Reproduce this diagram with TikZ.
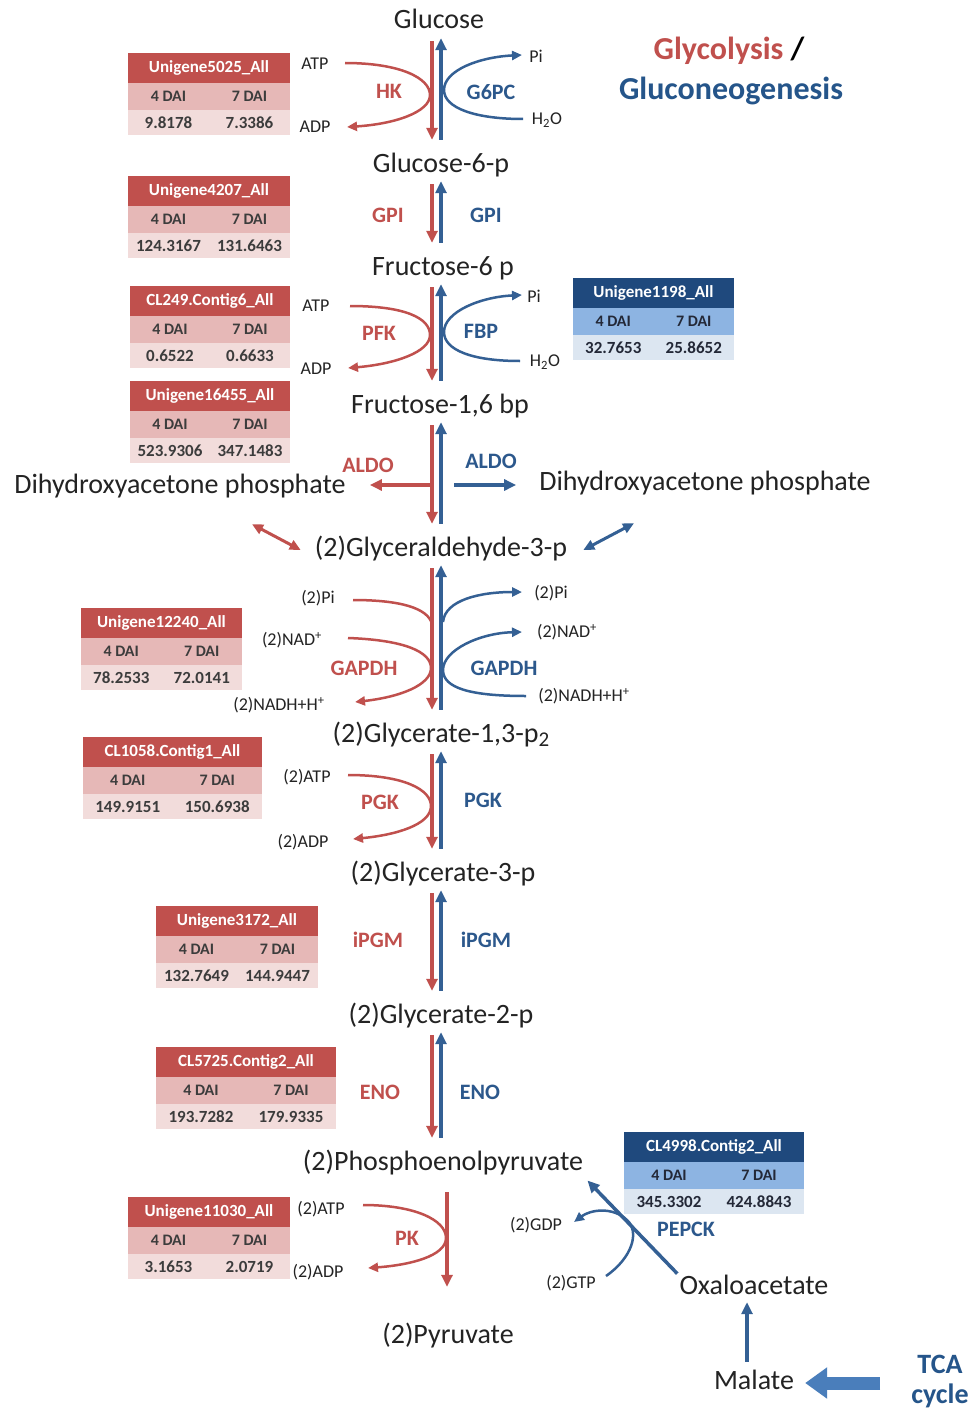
\documentclass[tikz,border=0pt]{standalone}
\usepackage{fontspec}
\setmainfont{Carlito}
\usetikzlibrary{arrows.meta,calc}
\definecolor{myred}{RGB}{192,80,77}
\definecolor{arrblue}{RGB}{52,96,148}
\definecolor{enzblue}{RGB}{44,88,140}
\definecolor{titleblue}{RGB}{37,85,138}
\definecolor{fatblue}{RGB}{74,126,187}
\definecolor{txt}{RGB}{35,35,35}
\definecolor{redhdr}{RGB}{192,80,77}
\definecolor{redmid}{RGB}{230,184,183}
\definecolor{redlow}{RGB}{242,220,219}
\definecolor{redtxt}{RGB}{60,60,60}
\definecolor{bluehdr}{RGB}{31,73,125}
\definecolor{bluemid}{RGB}{141,180,226}
\definecolor{bluelow}{RGB}{220,230,241}
\definecolor{bluetxt}{RGB}{35,40,55}
\newcommand{\gtab}[8]{%
  \fill[#8hdr] (#2,#3) rectangle ++(#4,30);
  \fill[#8mid] (#2,#3+30) rectangle ++(#4,27);
  \fill[#8low] (#2,#3+57) rectangle ++(#4,25);
  \node[tabh] (#1h) at (#2+#4/2,#3+15) {#5};
  \node[tabt,text=#8txt] (#1a) at (#2+#4/4,#3+43.5) {4 DAI};
  \node[tabt,text=#8txt] (#1b) at (#2+3*#4/4,#3+43.5) {7 DAI};
  \node[tabv,text=#8txt] (#1c) at (#2+#4/4,#3+69.5) {#6};
  \node[tabv,text=#8txt] (#1d) at (#2+3*#4/4,#3+69.5) {#7};
}
\begin{document}
\begin{tikzpicture}[x=1pt,y=-1pt,
  met/.style={font=\fontsize{28}{32}\selectfont, text=txt, inner sep=0pt, text height=18pt, text depth=6pt, anchor=base},
  lab/.style={font=\fontsize{18}{20}\selectfont, text=txt, inner sep=0pt},
  renz/.style={font=\fontsize{22}{24}\selectfont\bfseries, text=myred, inner sep=0pt},
  benz/.style={font=\fontsize{22}{24}\selectfont\bfseries, text=enzblue, inner sep=0pt},
  rarr/.style={draw=myred, line width=3.5pt, -{Triangle[length=12pt,width=11pt]}, shorten <=6pt, shorten >=14pt},
  barr/.style={draw=arrblue, line width=3.5pt, -{Triangle[length=12pt,width=11pt]}, shorten <=14pt, shorten >=3pt},
  rcur/.style={draw=myred, line width=2.5pt, -{Triangle[length=10pt,width=9pt]}},
  rcurn/.style={draw=myred, line width=2.5pt},
  bcur/.style={draw=arrblue, line width=2.5pt, -{Triangle[length=10pt,width=9pt]}},
  rdbl/.style={draw=myred, line width=3pt, arrows={Triangle[length=11pt,width=10pt]-Triangle[length=11pt,width=10pt]}},
  bdbl/.style={draw=arrblue, line width=3pt, arrows={Triangle[length=11pt,width=10pt]-Triangle[length=11pt,width=10pt]}},
  fatarr/.style={draw=fatblue, line width=13pt, -{Triangle[length=22pt,width=30pt]}},
  tabh/.style={font=\fontsize{17}{19}\selectfont\bfseries, text=white, inner sep=0pt},
  tabt/.style={font=\fontsize{16}{18}\selectfont\bfseries, inner sep=0pt},
  tabv/.style={font=\fontsize{17}{19}\selectfont\bfseries, inner sep=0pt},
  ttl/.style={font=\fontsize{32}{36}\selectfont\bfseries, inner sep=0pt, anchor=base}
]
\useasboundingbox[fill=white] (0,0) rectangle (974,1410);

% title
\node[ttl] (title1) at (729,60) {\textcolor{myred}{Glycolysis} /};
\node[ttl, text=titleblue] (title2) at (731,100) {Gluconeogenesis};

% metabolites
\node[met] (glc) at (439,29) {Glucose};
\node[met] (g6p) at (441,172) {Glucose-6-p};
\node[met] (f6p) at (443,275) {Fructose-6 p};
\node[met] (f16) at (440,413) {Fructose-1,6 bp};
\node[met] (dhapL) at (180,493) {Dihydroxyacetone phosphate};
\node[met] (dhapR) at (705,490) {Dihydroxyacetone phosphate};
\node[met] (g3p) at (441,556) {(2)Glyceraldehyde-3-p};
\node[met] (bpg) at (441,742) {(2)Glycerate-1,3-p\raisebox{-0.3ex}{\fontsize{21}{24}\selectfont 2}};
\node[met] (pg3) at (443,881) {(2)Glycerate-3-p};
\node[met] (pg2) at (441,1023) {(2)Glycerate-2-p};
\node[met] (pep) at (443,1170) {(2)Phosphoenolpyruvate};
\node[met] (pyr) at (448,1343) {(2)Pyruvate};
\node[met] (oaa) at (754,1294) {Oxaloacetate};
\node[met] (mal) at (754,1389) {Malate};
\node[ttl, font=\fontsize{28}{32}\selectfont\bfseries, text=titleblue] (tca1) at (940,1373) {TCA};
\node[ttl, font=\fontsize{28}{32}\selectfont\bfseries, text=titleblue] (tca2) at (940,1403) {cycle};

% enzymes
\node[renz] (hk) at (389,91) {HK};
\node[benz] (g6pc) at (491,92) {G6PC};
\node[renz] (gpir) at (388,215) {GPI};
\node[benz] (gpib) at (486,215) {GPI};
\node[renz] (pfk) at (379,333) {PFK};
\node[benz] (fbp) at (481,331) {FBP};
\node[renz] (aldor) at (368,465) {ALDO};
\node[benz] (aldob) at (491,461) {ALDO};
\node[renz] (gapdhr) at (364,668) {GAPDH};
\node[benz] (gapdhb) at (504,668) {GAPDH};
\node[renz] (pgkr) at (380,802) {PGK};
\node[benz] (pgkb) at (483,800) {PGK};
\node[renz] (ipgmr) at (378,940) {iPGM};
\node[benz] (ipgmb) at (486,940) {iPGM};
\node[renz] (enor) at (380,1092) {ENO};
\node[benz] (enob) at (480,1092) {ENO};
\node[renz] (pk) at (407,1238) {PK};
\node[benz] (pepck) at (686,1229) {PEPCK};

% small labels
\node[lab] (atp1) at (315,64) {ATP};
\node[lab] (adp1) at (315,127) {ADP};
\node[lab] (pi1) at (536,56) {Pi};
\node[lab] (h2o1) at (547,120) {H\textsubscript{2}O};
\node[lab] (atp2) at (316,306) {ATP};
\node[lab] (adp2) at (316,369) {ADP};
\node[lab] (pi2) at (534,296) {Pi};
\node[lab] (h2o2) at (545,362) {H\textsubscript{2}O};
\node[lab] (pil) at (318,598) {(2)Pi};
\node[lab] (nadl) at (292,640) {(2)NAD\textsuperscript{+}};
\node[lab] (nadhl) at (279,705) {(2)NADH+H\textsuperscript{+}};
\node[lab] (pir) at (551,593) {(2)Pi};
\node[lab] (nadr) at (567,632) {(2)NAD\textsuperscript{+}};
\node[lab] (nadhr) at (584,696) {(2)NADH+H\textsuperscript{+}};
\node[lab] (atp3) at (307,777) {(2)ATP};
\node[lab] (adp3) at (303,842) {(2)ADP};
\node[lab] (atp4) at (321,1209) {(2)ATP};
\node[lab] (adp4) at (318,1272) {(2)ADP};
\node[lab] (gdp) at (536,1225) {(2)GDP};
\node[lab] (gtp) at (571,1283) {(2)GTP};

% tables
\gtab{t1}{128}{53}{162}{Unigene5025\_All}{9.8178}{7.3386}{red}
\gtab{t2}{128}{176}{162}{Unigene4207\_All}{124.3167}{131.6463}{red}
\gtab{t3}{130}{286}{160}{CL249.Contig6\_All}{0.6522}{0.6633}{red}
\gtab{t4}{130}{381}{160}{Unigene16455\_All}{523.9306}{347.1483}{red}
\gtab{t5}{81}{608}{161}{Unigene12240\_All}{78.2533}{72.0141}{red}
\gtab{t6}{83}{737}{179}{CL1058.Contig1\_All}{149.9151}{150.6938}{red}
\gtab{t7}{156}{906}{162}{Unigene3172\_All}{132.7649}{144.9447}{red}
\gtab{t8}{156}{1047}{180}{CL5725.Contig2\_All}{193.7282}{179.9335}{red}
\gtab{t9}{128}{1197}{162}{Unigene11030\_All}{3.1653}{2.0719}{red}
\gtab{tb1}{573}{278}{161}{Unigene1198\_All}{32.7653}{25.8652}{blue}
\gtab{tb2}{624}{1132}{180}{CL4998.Contig2\_All}{345.3302}{424.8843}{blue}

% main vertical arrows
\coordinate (rx) at (432,0);
\coordinate (bx) at (441,0);
\foreach \a/\b in {glc/g6p, g6p/f6p, f6p/f16, f16/g3p, g3p/bpg, bpg/pg3, pg3/pg2, pg2/pep}{
  \draw[rarr] (rx |- \a.south) -- (rx |- \b.north);
  \draw[barr] (bx |- \b.north) -- (bx |- \a.south);
}
\coordinate (pkx) at (447,0);
\draw[rarr, shorten <=16pt, shorten >=38pt] (pkx |- pep.south) -- (pkx |- pyr.north);

% ALDO branches
\coordinate (aldoR) at (432,485);
\draw[rarr, shorten <=0pt, shorten >=24pt] (aldoR) -- (aldoR -| dhapL.east);
\coordinate (aldoB) at (454,485);
\draw[barr, shorten <=0pt, shorten >=23pt] (aldoB) -- (aldoB -| dhapR.west);
\draw[rdbl] ($(dhapL.south)+(72,25)$) -- ([xshift=-14pt]g3p.west);
\draw[bdbl] ([xshift=16pt]g3p.east) -- ($(dhapR.south)+(-71,27)$);

% HK / G6PC
\coordinate (c1) at (345,63);
\coordinate (c2) at (347,127);
\draw[rcur] (c1) .. controls (400,63) and (430,78) .. (430,95) .. controls (430,112) and (395,124) .. (c2);
\coordinate (c3) at (523,119);
\coordinate (c4) at (522,55);
\draw[bcur] (c3) .. controls (475,119) and (444,108) .. (444,90) .. controls (444,70) and (480,57) .. (c4);

% PFK / FBP
\coordinate (c5) at (350,306);
\coordinate (c6) at (348,368);
\draw[rcur] (c5) .. controls (405,306) and (430,318) .. (430,335) .. controls (430,352) and (395,364) .. (c6);
\coordinate (c7) at (520,361);
\coordinate (c8) at (522,295);
\draw[bcur] (c7) .. controls (472,361) and (444,350) .. (444,332) .. controls (444,312) and (480,297) .. (c8);

% GAPDH
\coordinate (c9) at (353,600);
\draw[rcurn] (c9) .. controls (400,600) and (428,608) .. (432,624);
\coordinate (c10) at (348,638);
\coordinate (c11) at (355,702);
\draw[rcur] (c10) .. controls (405,640) and (431,652) .. (431,668) .. controls (431,685) and (400,697) .. (c11);
\coordinate (c12) at (522,592);
\draw[bcur] (443,622) .. controls (445,600) and (480,592) .. (c12);
\coordinate (c13) at (526,696);
\coordinate (c14) at (522,632);
\draw[bcur] (c13) .. controls (470,696) and (443,688) .. (443,670) .. controls (443,650) and (480,633) .. (c14);

% PGK
\coordinate (c15) at (348,775);
\coordinate (c16) at (353,839);
\draw[rcur] (c15) .. controls (405,775) and (431,790) .. (431,806) .. controls (431,825) and (395,835) .. (c16);

% PK
\coordinate (c17) at (363,1205);
\coordinate (c18) at (368,1268);
\draw[rcur] (c17) .. controls (415,1205) and (446,1220) .. (446,1238) .. controls (446,1256) and (410,1265) .. (c18);

% PEPCK
\draw[barr, shorten <=3pt, shorten >=6pt] (oaa.north west) -- (pep.south east);
\coordinate (c19) at (606,1276);
\coordinate (c20) at (574,1222);
\draw[bcur] (c19) .. controls (632,1258) and (640,1232) .. (627,1220) .. controls (612,1206) and (590,1210) .. (c20);

% Malate -> Oxaloacetate, TCA -> Malate
\coordinate (malx) at (747,0);
\draw[barr, shorten <=9pt, shorten >=2pt] (malx |- mal.north) -- (malx |- oaa.south);
\coordinate (tcat) at ([xshift=-31pt]tca2.west);
\draw[fatarr] (tcat |- mal.east) -- ([xshift=11pt]mal.east);
\end{tikzpicture}
\end{document}
